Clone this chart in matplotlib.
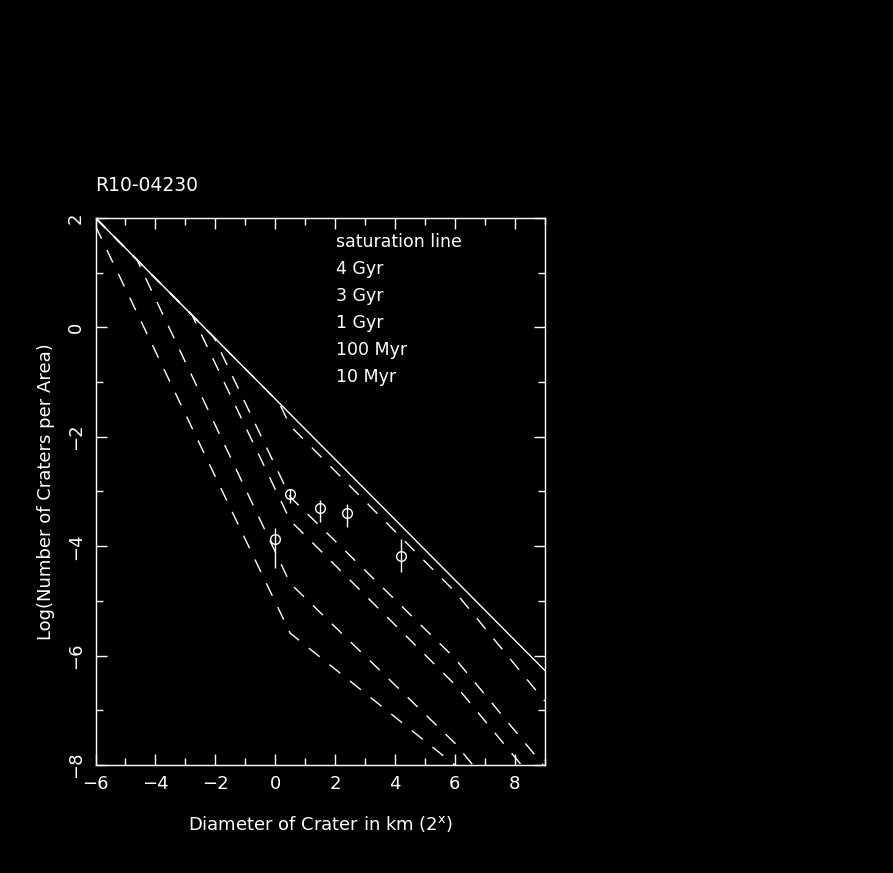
import numpy as np
import matplotlib
matplotlib.use("Agg")
import matplotlib.pyplot as plt
from matplotlib.ticker import MultipleLocator

# ── data ────────────────────────────────────────────────────────────────────
sat_x = [-6.0, 9.0]
sat_y = [2.0, -6.27]

iso_4gyr_x = [-6.0, 0.13, 0.5, 6.0, 9.0]
iso_4gyr_y = [2.0, -1.38, -1.80, -4.83, -6.83]

iso_3gyr_x = [-6.0, -2.05, 0.5, 6.0, 8.95]
iso_3gyr_y = [2.0, -0.18, -3.10, -6.05, -8.0]

iso_1gyr_x = [-6.0, -2.78, 0.5, 6.0, 8.22]
iso_1gyr_y = [2.0, 0.23, -3.53, -6.53, -8.0]

iso_100myr_x = [-6.0, -4.62, 0.5, 6.0, 6.6]
iso_100myr_y = [2.0, 1.24, -4.68, -7.60, -8.0]

iso_10myr_x = [-6.0, 0.5, 6.0]
iso_10myr_y = [1.85, -5.59, -8.0]

pts_x = [0.0, 0.5, 1.5, 2.4, 4.2]
pts_y = [-3.87, -3.05, -3.31, -3.39, -4.17]
err_lo = [0.53, 0.16, 0.25, 0.25, 0.30]
err_hi = [0.20, 0.10, 0.15, 0.16, 0.31]

legend_labels = ["saturation line", "4 Gyr", "3 Gyr", "1 Gyr", "100 Myr", "10 Myr"]
title = "R10-04230"

FG = "#FFFFFF"
BG = "#000000"

# ── figure ──────────────────────────────────────────────────────────────────
fig = plt.figure(figsize=(8.93, 8.73), dpi=100)
fig.patch.set_facecolor(BG)
ax = fig.add_axes([0.107, 0.1237, 0.503, 0.6266])
ax.set_facecolor(BG)

ax.plot(sat_x, sat_y, color=FG, lw=1.0)
dash = (0, (10, 9))
for xs, ys in [(iso_4gyr_x, iso_4gyr_y), (iso_3gyr_x, iso_3gyr_y),
               (iso_1gyr_x, iso_1gyr_y), (iso_100myr_x, iso_100myr_y),
               (iso_10myr_x, iso_10myr_y)]:
    ax.plot(xs, ys, color=FG, lw=1.0, linestyle=dash)

ax.errorbar(pts_x, pts_y, yerr=[err_lo, err_hi], fmt="o", ms=7,
            mfc="none", mec=FG, mew=1.0, ecolor=FG, elinewidth=1.0,
            capsize=0)

ax.set_xlim(-6, 9)
ax.set_ylim(-8, 2)

# ── axes styling (PGPLOT look) ──────────────────────────────────────────────
for spine in ax.spines.values():
    spine.set_edgecolor(FG)
    spine.set_linewidth(1.0)
ax.xaxis.set_major_locator(MultipleLocator(2))
ax.xaxis.set_minor_locator(MultipleLocator(1))
ax.yaxis.set_major_locator(MultipleLocator(2))
ax.yaxis.set_minor_locator(MultipleLocator(1))
ax.tick_params(which="both", direction="in", top=True, right=True,
               colors=FG, labelsize=13, width=1.0)
ax.tick_params(which="major", length=8)
ax.tick_params(which="minor", length=5)
ax.tick_params(axis="x", pad=7)
for lab in ax.get_yticklabels():
    lab.set_rotation(90)
    lab.set_va("center")
    lab.set_ha("center")
ax.tick_params(axis="y", pad=14)

ax.set_xlabel(r"Diameter of Crater in km (2$^{\rm x}$)", color=FG,
              fontsize=13, labelpad=15)
ax.set_ylabel("Log(Number of Craters per Area)", color=FG, fontsize=13,
              labelpad=9)

ax.text(0.0, 1.06, title, transform=ax.transAxes, color=FG, fontsize=13.5,
        ha="left", va="center")

for i, lab in enumerate(legend_labels):
    ax.text(0.535, 0.957 - i * 0.0494, lab, transform=ax.transAxes,
            color=FG, fontsize=12.5, ha="left", va="center")

fig.savefig("out.png", dpi=100, facecolor=BG)
